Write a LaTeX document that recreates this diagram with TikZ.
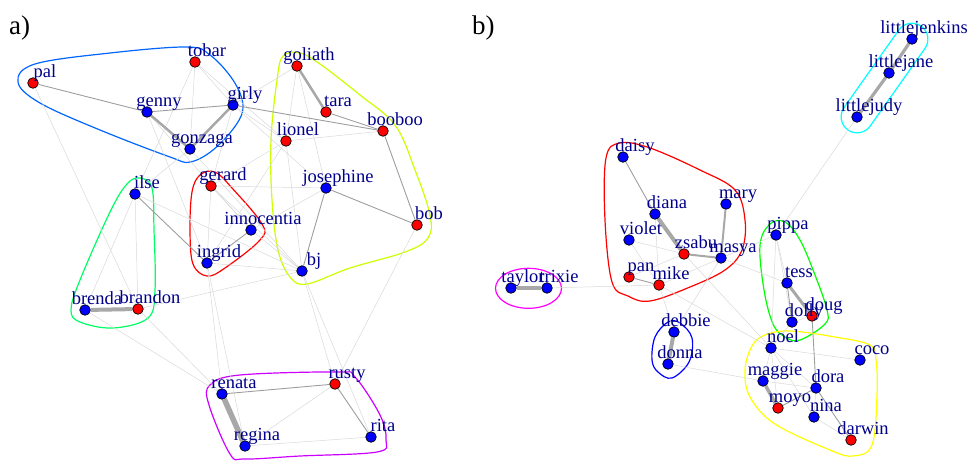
\documentclass[tikz,border=0pt]{standalone}
\usepackage{fontspec}
\setmainfont{Liberation Serif}
\definecolor{labelblue}{HTML}{00008B}
\definecolor{faintgray}{HTML}{D9D9D9}
\definecolor{midgray}{HTML}{9E9E9E}
\definecolor{heavygray}{HTML}{A8A8A8}
% group outline colours (rainbow palettes)
\definecolor{gA}{HTML}{0066FF}
\definecolor{gB}{HTML}{CCFF00}
\definecolor{gC}{HTML}{FF0000}
\definecolor{gD}{HTML}{00FF66}
\definecolor{gE}{HTML}{CC00FF}
\definecolor{hR}{HTML}{FF0000}
\definecolor{hY}{HTML}{FFFF00}
\definecolor{hG}{HTML}{00FF00}
\definecolor{hC}{HTML}{00FFFF}
\definecolor{hB}{HTML}{0000FF}
\definecolor{hM}{HTML}{FF00FF}
\pgfdeclarelayer{bg}
\pgfsetlayers{bg,main}
\tikzset{
  vtx/.style={circle, draw=black, line width=0.7pt, minimum size=10.6pt, inner sep=0pt},
  vb/.style={vtx, fill=blue},
  vr/.style={vtx, fill=red},
  lbl/.style={text=labelblue, font=\fontsize{18.5}{18.5}\selectfont, anchor=base, inner sep=0pt},
  panel/.style={font=\fontsize{27}{27}\selectfont, anchor=base west, inner sep=0pt},
  faint/.style={draw=faintgray, line width=0.5pt},
  mid/.style={draw=midgray, line width=0.9pt},
  heavy/.style={draw=heavygray, line width=#1},
  hull/.style={line width=1.2pt},
}
\begin{document}
\begin{tikzpicture}[x=1pt,y=-1pt]
\useasboundingbox (0,0) rectangle (971,461);

\node[panel] (pa) at (9,34) {a)};
\node[panel] (pb) at (472,34) {b)};

% ---------- network a ----------
\node[vr] (tobar) at (195,62) {};
\node[vr] (pal) at (33,83) {};
\node[vb] (genny) at (147,112) {};
\node[vb] (girly) at (233,105) {};
\node[vb] (gonzaga) at (190,149) {};
\node[vr] (goliath) at (297,66) {};
\node[vr] (tara) at (326,112) {};
\node[vr] (booboo) at (383,131) {};
\node[vr] (lionel) at (286,141) {};
\node[vb] (josephine) at (326,188) {};
\node[vr] (bob) at (417,225) {};
\node[vr] (gerard) at (211,186) {};
\node[vb] (innocentia) at (251,230) {};
\node[vb] (ingrid) at (207,263) {};
\node[vb] (bj) at (302,271) {};
\node[vb] (ilse) at (135,194) {};
\node[vb] (brenda) at (85,310) {};
\node[vr] (brandon) at (138,309) {};
\node[vb] (renata) at (222,394) {};
\node[vr] (rusty) at (335,384) {};
\node[vb] (regina) at (245,446) {};
\node[vb] (rita) at (371,437) {};

% ---------- network b ----------
\node[vb] (littlejenkins) at (912,39) {};
\node[vb] (littlejane) at (889,73) {};
\node[vb] (littlejudy) at (857,117) {};
\node[vb] (daisy) at (623,157) {};
\node[vb] (diana) at (655,214) {};
\node[vb] (mary) at (726,204) {};
\node[vb] (violet) at (629,240) {};
\node[vr] (zsabu) at (684,254) {};
\node[vb] (masya) at (721,258) {};
\node[vr] (pan) at (629,277) {};
\node[vr] (mike) at (659,285) {};
\node[vb] (taylor) at (511,288) {};
\node[vb] (trixie) at (547,288) {};
\node[vb] (pippa) at (776,235) {};
\node[vb] (tess) at (787,283) {};
\node[vb] (dolly) at (792,322) {};
\node[vr] (doug) at (812,316) {};
\node[vb] (debbie) at (674,332) {};
\node[vb] (donna) at (668,364) {};
\node[vb] (noel) at (771,348) {};
\node[vb] (coco) at (860,360) {};
\node[vb] (maggie) at (763,381) {};
\node[vb] (dora) at (816,388) {};
\node[vr] (moyo) at (778,408) {};
\node[vb] (nina) at (814,417) {};
\node[vr] (darwin) at (851,440) {};

% vertex names, set above right of each vertex
\foreach \n in {tobar,pal,genny,girly,gonzaga,goliath,tara,booboo,lionel,josephine,bob,
  gerard,innocentia,ingrid,bj,ilse,brenda,brandon,renata,rusty,regina,rita,
  littlejenkins,littlejane,littlejudy,daisy,diana,mary,violet,zsabu,masya,pan,mike,
  taylor,trixie,pippa,tess,dolly,doug,debbie,donna,noel,coco,maggie,dora,moyo,nina,darwin}
  \node[lbl] (\n-name) at ([shift={(12pt,6pt)}]\n.center) {\n};

\begin{pgfonlayer}{bg}
% group outlines
\draw[hull, draw=gA] plot[smooth cycle, tension=0.6] coordinates {
  (18,82) (35,64) (110,53) (187,47) (210,55) (233,80) (243,105) (236,125)
  (213,150) (190,162) (170,157) (100,130) (40,103)};
\draw[hull, draw=gB] plot[smooth cycle, tension=0.6] coordinates {
  (283,56) (300,53) (320,64) (360,95) (395,125) (415,170) (430,215) (428,238)
  (405,252) (350,268) (307,284) (290,277) (278,250) (272,200) (271,140) (277,80)};
\draw[hull, draw=gC] plot[smooth cycle, tension=0.6] coordinates {
  (200,175) (215,172) (232,188) (262,224) (260,240) (225,268) (207,276)
  (193,264) (190,230) (192,192)};
\draw[hull, draw=gD] plot[smooth cycle, tension=0.6] coordinates {
  (127,184) (140,178) (152,188) (154,230) (155,290) (148,318) (113,328)
  (80,322) (71,310) (80,280) (110,212)};
\draw[hull, draw=gE] plot[smooth cycle, tension=0.6] coordinates {
  (210,385) (240,375) (338,372) (355,377) (380,415) (386,440) (377,452)
  (300,456) (245,459) (230,454) (209,405)};

\draw[hull, draw=hR] plot[smooth cycle, tension=0.6] coordinates {
  (606,158) (620,143) (650,148) (700,170) (735,190) (745,220) (742,250)
  (725,270) (690,287) (650,301) (628,296) (612,282) (605,220)};
\draw[hull, draw=hM] (528.5,288.3) ellipse [x radius=33, y radius=20];
\node[hull, draw=hC, rounded corners=16pt, minimum width=127pt, minimum height=32pt,
  inner sep=0pt, rotate=54.8] (littles) at (884.5,78) {};
\draw[hull, draw=hG] plot[smooth cycle, tension=0.6] coordinates {
  (770,224) (785,222) (800,240) (815,275) (827,310) (825,324) (800,340)
  (785,337) (773,324) (764,290) (760,245)};
\draw[hull, draw=hB] plot[smooth cycle, tension=0.6] coordinates {
  (668,322) (680,323) (692,338) (689,362) (672,378) (658,372) (652,360) (655,337)};
\draw[hull, draw=hY] plot[smooth cycle, tension=0.6] coordinates {
  (752,346) (765,335) (790,331) (835,337) (870,345) (876,360) (877,395)
  (872,445) (853,456) (830,450) (775,424) (750,397) (745,370)};

% faint ties
\foreach \a/\b in {tobar/girly, tobar/gonzaga, tobar/ilse, tobar/lionel, pal/brandon,
  genny/ingrid, genny/innocentia, gonzaga/ilse, gonzaga/bj, girly/goliath, girly/lionel,
  girly/josephine, girly/gerard, goliath/josephine, goliath/lionel, lionel/booboo,
  lionel/bj, lionel/ingrid, lionel/gerard, gerard/innocentia, gerard/ingrid, gerard/bj,
  gerard/josephine, innocentia/bj, ingrid/bj, josephine/innocentia, ilse/brenda,
  ilse/brandon, ilse/bj, brandon/bj, brenda/renata, brandon/renata, ingrid/renata,
  ingrid/regina, bj/rusty, bj/rita, bob/rusty, regina/rusty, regina/rita,
  littlejudy/pippa, trixie/mike, violet/zsabu, violet/mike, diana/mike, pan/zsabu,
  mike/masya, zsabu/noel, masya/debbie, masya/tess, masya/pippa, mike/debbie,
  mike/noel, donna/maggie, pippa/tess, pippa/dolly, pippa/noel, dolly/doug,
  dolly/noel, noel/coco, noel/maggie, noel/moyo, noel/nina, noel/dora,
  maggie/dora, dora/nina, nina/darwin}
  \draw[faint] (\a) -- (\b);

% medium ties
\foreach \a/\b in {pal/genny, genny/girly, girly/booboo, tara/booboo, booboo/bob,
  josephine/bob, josephine/bj, ilse/ingrid, innocentia/ingrid, renata/rusty,
  rusty/rita, daisy/diana, pan/mike, doug/dora, dora/darwin, tess/dolly, moyo/dora}
  \draw[mid] (\a) -- (\b);

% heavy ties
\draw[heavy=2.5pt] (genny) -- (gonzaga);
\draw[heavy=2.5pt] (gonzaga) -- (girly);
\draw[heavy=2.5pt] (goliath) -- (tara);
\draw[heavy=4pt] (brenda) -- (brandon);
\draw[heavy=5.5pt] (renata) -- (regina);
\draw[heavy=3.2pt] (littlejenkins) -- (littlejane);
\draw[heavy=3.2pt] (littlejane) -- (littlejudy);
\draw[heavy=4pt] (diana) -- (zsabu);
\draw[heavy=2pt] (mary) -- (masya);
\draw[heavy=2pt] (zsabu) -- (masya);
\draw[heavy=4.5pt] (taylor) -- (trixie);
\draw[heavy=4pt] (debbie) -- (donna);
\draw[heavy=3pt] (tess) -- (doug);
\draw[heavy=3.5pt] (maggie) -- (moyo);
\end{pgfonlayer}
\end{tikzpicture}
\end{document}
